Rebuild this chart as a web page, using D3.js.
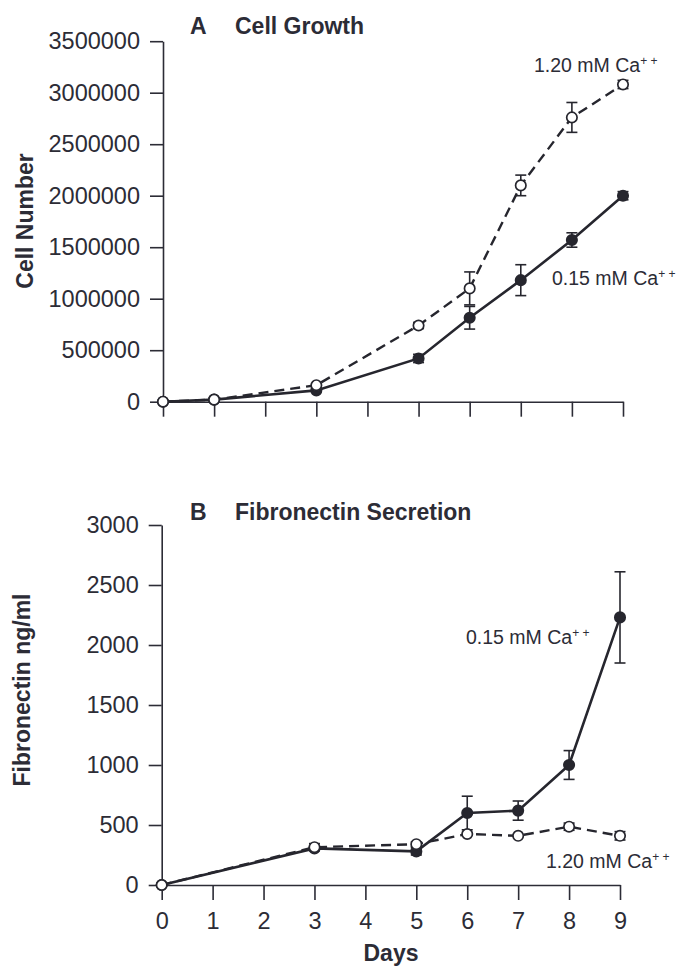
<!DOCTYPE html>
<html>
<head>
  <meta charset="utf-8">
  <title>Cell growth and fibronectin</title>
  <style>
    body { margin: 0; background: #fff; }
    svg { display: block; }
    text { font-family: "Liberation Sans", Arial, sans-serif; fill: #2c2c36; }
    .tick text { font-size: 23.5px; }
    .tick line, .domain { stroke: #2c2c36; stroke-width: 1.6; }
    .title { font-size: 23px; font-weight: bold; }
    .ylab, .xlab { font-size: 23px; font-weight: bold; }
    .note { font-size: 19.5px; }
  </style>
</head>
<body>
<svg id="chart" width="683" height="967"></svg>
<script src="https://cdn.jsdelivr.net/npm/d3@7"></script>
<script>
// panel A: cell number per day
var growthDays = [0, 1, 3, 5, 6, 7, 8, 9];
var growthHigh = [0, 20000, 160000, 740000, 1100000, 2100000, 2760000, 3080000];   // 1.20 mM
var growthHighErr = [0, 0, 0, 30000, 160000, 100000, 145000, 40000];
var growthLow = [0, 20000, 110000, 420000, 815000, 1180000, 1570000, 2000000];     // 0.15 mM
var growthLowErr = [0, 0, 0, 40000, 110000, 150000, 70000, 40000];
var growthTicks = [0, 500000, 1000000, 1500000, 2000000, 2500000, 3000000, 3500000];

// panel B: fibronectin ng/ml per day
var fnDays = [0, 3, 5, 6, 7, 8, 9];
var fnHigh = [0, 315, 340, 425, 410, 486, 410];
var fnHighErr = [0, 30, 20, 0, 0, 30, 35];
var fnLow = [0, 305, 280, 600, 620, 1000, 2230];
var fnLowErr = [0, 0, 30, 140, 80, 120, 380];
var fnTicks = [0, 500, 1000, 1500, 2000, 2500, 3000];

var dayTicks = [0, 1, 2, 3, 4, 5, 6, 7, 8, 9];

var svg = d3.select("#chart");
var ink = "#26262e";

function panel(p) {
  var g = svg.append("g");
  var x = d3.scaleLinear().domain([0, 9]).range(p.xr);
  var y = d3.scaleLinear().domain([0, p.ymax]).range(p.yr);

  var xa = d3.axisBottom(x).tickValues(dayTicks).tickSize(15).tickPadding(12.5).tickSizeOuter(0);
  if (!p.xlabels) xa.tickFormat("");
  g.append("g").attr("transform", "translate(0," + p.yr[0] + ")").call(xa);

  g.append("g").attr("transform", "translate(" + p.xr[0] + ",0)")
    .call(d3.axisLeft(y).tickValues(p.ticks).tickSize(13).tickPadding(10)
      .tickSizeOuter(0).tickFormat(d3.format("d")));

  function series(vals, errs, dashed, filled) {
    var pts = p.days.map(function(d, i) { return {d: d, v: vals[i], e: errs[i]}; });
    g.append("path").datum(pts)
      .attr("fill", "none").attr("stroke", ink)
      .attr("stroke-width", dashed ? 2.4 : 2.6)
      .attr("stroke-dasharray", dashed ? "10,6" : null)
      .attr("d", d3.line().x(function(o) { return x(o.d); }).y(function(o) { return y(o.v); }));
    var eb = g.append("g").attr("stroke", ink).attr("stroke-width", 1.6)
      .selectAll("g").data(pts.filter(function(o) { return o.e > 0; })).enter().append("g");
    eb.append("line")
      .attr("x1", function(o) { return x(o.d); }).attr("x2", function(o) { return x(o.d); })
      .attr("y1", function(o) { return y(o.v - o.e); }).attr("y2", function(o) { return y(o.v + o.e); });
    [-1, 1].forEach(function(s) {
      eb.append("line")
        .attr("x1", function(o) { return x(o.d) - 5.5; }).attr("x2", function(o) { return x(o.d) + 5.5; })
        .attr("y1", function(o) { return y(o.v + s * o.e); }).attr("y2", function(o) { return y(o.v + s * o.e); });
    });
    g.append("g").selectAll("circle").data(pts).enter().append("circle")
      .attr("cx", function(o) { return x(o.d); }).attr("cy", function(o) { return y(o.v); })
      .attr("r", 5.2)
      .attr("fill", filled ? ink : "#fff").attr("stroke", ink).attr("stroke-width", 1.7);
  }
  series(p.low, p.lowErr, false, true);
  series(p.high, p.highErr, true, false);

  var t = g.append("text").attr("class", "title").attr("y", p.titleY);
  t.append("tspan").attr("x", 190).text(p.letter);
  t.append("tspan").attr("x", 235).text(p.title);

  g.append("text").attr("class", "ylab")
    .attr("transform", "translate(" + p.ylabX + "," + p.ylabY + ") rotate(-90)")
    .attr("text-anchor", "middle").text(p.ylab);

  p.notes.forEach(function(n) {
    var tx = g.append("text").attr("class", "note").attr("x", n[0]).attr("y", n[1]);
    tx.append("tspan").text(n[2]);
    tx.append("tspan").attr("dy", -7).style("font-size", "12px").text("+ +");
  });
}

panel({
  xr: [163, 623], yr: [401.7, 41.2], ymax: 3500000, ticks: growthTicks,
  days: growthDays, high: growthHigh, highErr: growthHighErr, low: growthLow, lowErr: growthLowErr,
  xlabels: false, letter: "A", title: "Cell Growth", titleY: 34,
  ylab: "Cell Number", ylabX: 33, ylabY: 221,
  notes: [[534, 72, "1.20 mM Ca"], [552, 285, "0.15 mM Ca"]]
});

panel({
  xr: [161.7, 620], yr: [885, 525], ymax: 3000, ticks: fnTicks,
  days: fnDays, high: fnHigh, highErr: fnHighErr, low: fnLow, lowErr: fnLowErr,
  xlabels: true, letter: "B", title: "Fibronectin Secretion", titleY: 520,
  ylab: "Fibronectin ng/ml", ylabX: 30, ylabY: 690,
  notes: [[466, 644, "0.15 mM Ca"], [546, 868, "1.20 mM Ca"]]
});

svg.append("text").attr("class", "xlab").attr("x", 391).attr("y", 961)
  .attr("text-anchor", "middle").text("Days");
</script>
</body>
</html>
